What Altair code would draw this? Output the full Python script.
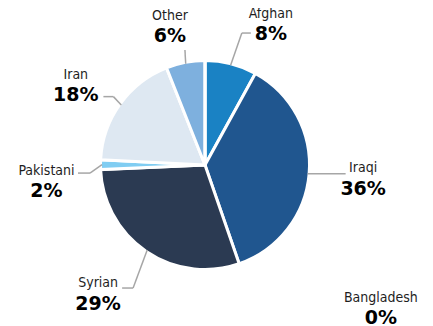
import altair as alt
import pandas as pd

# ---- data ----
categories = ["Afghan", "Iraqi", "Syrian", "Pakistani", "Iran", "Other", "Bangladesh"]
values = [8.0, 36.7, 29.6, 1.5, 18.2, 6.0, 0.0]
pct_labels = ["8%", "36%", "29%", "2%", "18%", "6%", "0%"]

# ---- styles ----
colors = ["#1a82c4", "#20568f", "#2b3a52", "#80cdf2", "#dee8f2", "#7eb0de", "#9dc3e6"]

# ---- label layout (leader bend angle offset, bend radius, horizontal run, label offsets) ----
lay_da = [1.2, 0.0, -3.9, -4.2, 1.1, 0.9, 0.0]
lay_rb = [137.0, 103.0, 142.5, 115.3, 114.3, 116.7, 103.0]
lay_run = [9.0, 38.0, -11.0, -12.0, -10.0, 0.0, 0.0]
lay_ldx = [20.0, 17.5, -24.0, -31.5, -27.6, -15.0, 175.8]
lay_ndy = [-15.0, -1.5, -1.5, 2.0, -17.7, -30.0, 239.7]
lay_pdy = [7.0, 21.0, 21.7, 24.0, 4.0, -8.3, 262.0]
lay_lead = [1, 1, 1, 1, 1, 1, 0]

CX, CY, R_EDGE, R_OUT = 197, 157, 103, 104.5

df = pd.DataFrame({
    "category": categories,
    "value": values,
    "pct": pct_labels,
    "order": list(range(len(categories))),
    "da": lay_da, "rb": lay_rb, "run": lay_run,
    "ldx": lay_ldx, "ndy": lay_ndy, "pdy": lay_pdy, "lead": lay_lead,
})

base = alt.Chart(df)

arcs = base.mark_arc(outerRadius=R_OUT, stroke="white", strokeWidth=3).encode(
    theta=alt.Theta("value:Q", stack=True),
    order=alt.Order("order:Q"),
    color=alt.Color("category:N", scale=alt.Scale(domain=categories, range=colors), legend=None),
    x=alt.value(CX),
    y=alt.value(CY),
)

geo = base.transform_window(
    cum="sum(value)", sort=[alt.SortField("order")], frame=[None, 0]
).transform_joinaggregate(total="sum(value)").transform_calculate(
    mid="2*PI*(datum.cum - datum.value/2)/datum.total"
).transform_calculate(
    a2="datum.mid + datum.da*PI/180"
).transform_calculate(
    x1=f"{CX} + {R_EDGE}*sin(datum.mid)",
    y1=f"{CY} - {R_EDGE}*cos(datum.mid)",
    x2=f"{CX} + datum.rb*sin(datum.a2)",
    y2=f"{CY} - datum.rb*cos(datum.a2)",
).transform_calculate(
    x3="datum.x2 + datum.run",
    y3="datum.y2",
).transform_calculate(
    lx="datum.x3 + datum.ldx",
    ny="datum.y3 + datum.ndy",
    py="datum.y3 + datum.pdy",
)

lead_color = "#a6a6a6"
seg1 = geo.transform_filter("datum.lead == 1").mark_rule(color=lead_color, strokeWidth=1.5).encode(
    x=alt.X("x1:Q", scale=None), y=alt.Y("y1:Q", scale=None),
    x2="x2:Q", y2="y2:Q",
)
seg2 = geo.transform_filter("datum.lead == 1").mark_rule(color=lead_color, strokeWidth=1.5).encode(
    x=alt.X("x2:Q", scale=None), y=alt.Y("y2:Q", scale=None),
    x2="x3:Q", y2="y3:Q",
)

names = geo.mark_text(align="center", baseline="alphabetic",
                      font="DejaVu Sans Condensed, DejaVu Sans", fontSize=14, color="#1e1e1e").encode(
    x=alt.X("lx:Q", scale=None), y=alt.Y("ny:Q", scale=None), text="category:N",
)
pcts = geo.mark_text(align="center", baseline="alphabetic",
                     font="DejaVu Sans", fontSize=19, fontWeight="bold", color="#000000").encode(
    x=alt.X("lx:Q", scale=None), y=alt.Y("py:Q", scale=None), text="pct:N",
)

chart = alt.layer(arcs, seg1, seg2, names, pcts).properties(
    width=417, height=318, autosize=alt.AutoSizeParams(type="none"), padding=0,
).configure_view(stroke=None)

chart.save("out.html", embed_options={"renderer": "svg", "actions": False})
